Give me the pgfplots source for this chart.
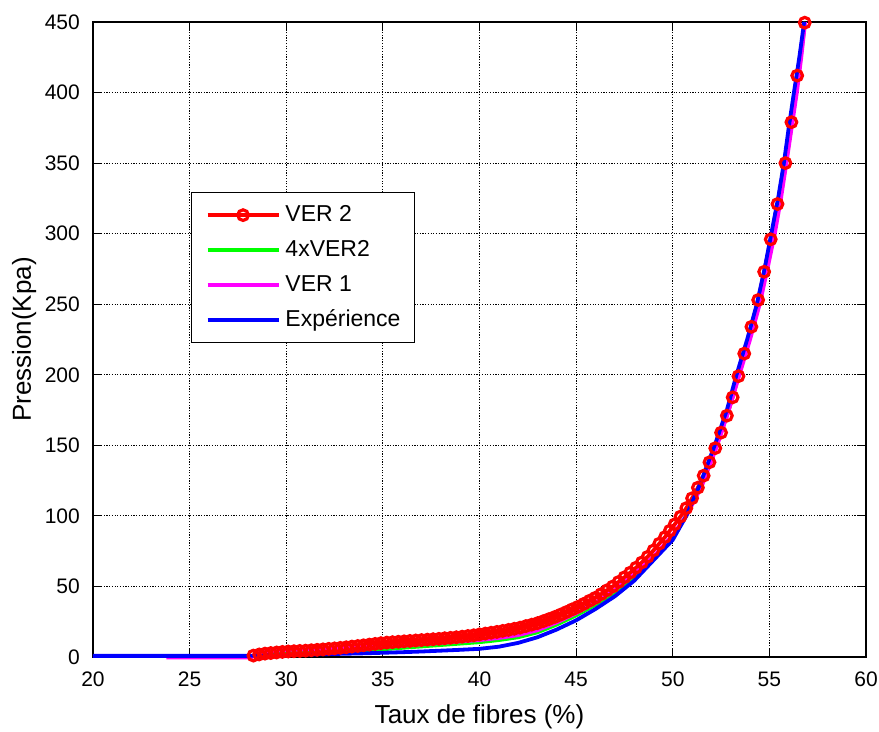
\documentclass[border=0pt]{standalone}
\usepackage{pgfplots}
\pgfplotsset{compat=1.18}
\usepackage{fontspec}
\setmainfont{Liberation Sans}
\definecolor{mred}{rgb}{1,0,0}
\definecolor{mgreen}{rgb}{0,1,0}
\definecolor{mmag}{rgb}{1,0,1}
\definecolor{mblue}{rgb}{0,0,1}
\begin{document}
\begin{tikzpicture}
\begin{axis}[
  scale only axis, width=773pt, height=635pt,
  xmin=20, xmax=60, ymin=0, ymax=450,
  xtick={20,25,...,60}, ytick={0,50,...,450},
  grid=major,
  major grid style={black, line width=1.2pt, dash pattern=on 1.2pt off 1.5pt},
  axis line style={black, line width=1.3pt},
  tick align=inside, major tick length=8pt,
  tick style={black, line width=1.2pt},
  tick pos=both,
  clip=false,
  /pgf/number format/assume math mode=true,
  ticklabel style={font=\fontsize{21}{25}\selectfont, inner sep=0pt},
  xticklabel style={yshift=-15pt},
  yticklabel style={xshift=-13pt},
  label style={font=\fontsize{26}{30}\selectfont},
  xlabel={Taux de fibres (\%)},
  ylabel={Pression(Kpa)},
  xlabel style={at={([yshift=-66pt]axis description cs:0.5,0)}, anchor=base},
  ylabel style={at={([xshift=-62pt]axis description cs:0,0.5)}, anchor=base},
  legend style={at={(axis description cs:0.1268,0.7323)}, anchor=north west,
    draw=black, line width=1.3pt, fill=white,
    font=\fontsize{23}{27}\selectfont,
    inner xsep=14pt, inner ysep=12pt, row sep=14pt, column sep=5pt,
    nodes={inner sep=0pt, text height=17pt, text depth=4pt}},
  legend cell align=left,
  legend image code/.code={\draw[mark repeat=2,mark phase=2,#1] plot coordinates {(0pt,0pt) (35.5pt,0pt) (71pt,0pt)};},
]
\addplot[mred, line width=3.8pt, mark=o, mark size=5.3pt, mark options={solid, line width=3.2pt, fill=none}] coordinates {
(28.3,1.0) (28.6,1.8) (28.9,2.4) (29.2,2.8) (29.5,3.2) (29.8,3.6) (30.1,3.9) (30.4,4.1) (30.7,4.3) (31.0,4.5)
(31.3,4.8) (31.6,5.1) (31.9,5.4) (32.2,5.8) (32.5,6.1) (32.8,6.5) (33.1,6.9) (33.4,7.4) (33.7,7.8) (34.0,8.3)
(34.3,8.8) (34.6,9.3) (34.9,9.8) (35.2,10.2) (35.5,10.5) (35.8,10.8) (36.1,11.1) (36.4,11.4) (36.7,11.7) (37.0,12.0)
(37.3,12.3) (37.6,12.6) (37.9,12.9) (38.2,13.3) (38.5,13.6) (38.8,14.0) (39.1,14.4) (39.4,14.9) (39.7,15.4) (40.0,16.0)
(40.3,16.6) (40.6,17.2) (40.9,17.8) (41.2,18.5) (41.5,19.2) (41.8,20.0) (42.1,20.8) (42.4,21.9) (42.7,22.9) (43.0,24.0)
(43.3,25.4) (43.6,26.9) (43.9,28.4) (44.2,30.1) (44.5,31.9) (44.8,33.8) (45.1,35.6) (45.4,37.7) (45.7,39.9) (46.0,42.0)
(46.3,44.6) (46.6,47.3) (46.9,50.0) (47.2,53.2) (47.5,56.5) (47.8,59.8) (48.1,63.3) (48.4,67.0) (48.7,71.0) (49.0,75.5)
(49.3,80.3) (49.6,85.0) (49.85,89.5) (50.1,94) (50.4,99.5) (50.7,105.5) (51.0,112.5) (51.3,120) (51.6,128.5) (51.9,138)
(52.2,148) (52.5,159) (52.8,171) (53.1,184) (53.4,199) (53.7,215) (54.07,234) (54.42,253) (54.73,273) (55.07,296)
(55.42,321) (55.83,350) (56.14,379) (56.44,412) (56.83,449.5)
};
\addlegendentry{VER 2}
\addplot[mgreen, line width=3.8pt] coordinates {
(28.7,0) (29.5,1.5) (30,2.5) (31,3.2) (32,3.6) (33,4.0) (34,4.6) (35,5.5) (36,6.5) (37,7.5) (38,8.5) (39,9.5) (40,10.5)
(41,12.0) (42,14.0) (43,17.5) (44,23) (45,29.5) (46,37) (47,46) (48,57) (49,70) (50,85.5) (50.7,100) (51.45,121)
(52.25,150) (52.85,175) (53.4,200) (53.95,225) (54.45,250) (54.85,275) (55.22,300) (55.55,325) (55.85,350) (56.12,375)
(56.38,400) (56.62,425) (56.85,450)
};
\addlegendentry{4xVER2}
\addplot[mmag, line width=3.8pt] coordinates {
(23.8,-0.3) (28.2,-0.3) (28.5,3.5) (29.5,4.8) (30.5,5.2) (32,5.8) (33,6.3) (34,6.8) (35,7.2) (36,8.0) (37,9.0) (38,10.0)
(39,11.0) (40,12.0) (41,13.5) (42,15.5) (43,19) (44,24.5) (45,31) (46,38.5) (47,47.5) (48,58.5) (49,71) (50,86.5)
(50.7,100) (51.5,121) (52.3,150) (52.9,175) (53.45,200) (54.0,225) (54.5,250) (54.9,275) (55.28,300) (55.6,325)
(55.88,350) (56.15,375) (56.42,400) (56.65,425) (56.85,450)
};
\addlegendentry{VER 1}
\addplot[mblue, line width=3.8pt] coordinates {
(20,0.8) (28,0.8) (29,1.0) (30,1.3) (31,1.7) (32,2.0) (33,2.3) (34,2.6) (35,3.0) (36,3.4) (37,3.9) (38,4.5) (39,5.1)
(40,5.8) (41,7.3) (42,10) (43,14) (44,19.5) (45,26) (46,34) (47,43) (48,54) (49,68.5) (50,83) (50.7,100) (51.4,122)
(52.17,150) (52.8,175) (53.3,200) (53.85,225) (54.35,250) (54.75,275) (55.1,300) (55.45,325) (55.75,350) (56.0,375)
(56.27,400) (56.55,425) (56.8,450)
};
\addlegendentry{Expérience}
\path ([shift={(-93pt,-72pt)}]rel axis cs:0,0) rectangle ([shift={(13pt,22pt)}]rel axis cs:1,1);
\end{axis}
\end{tikzpicture}
\end{document}
